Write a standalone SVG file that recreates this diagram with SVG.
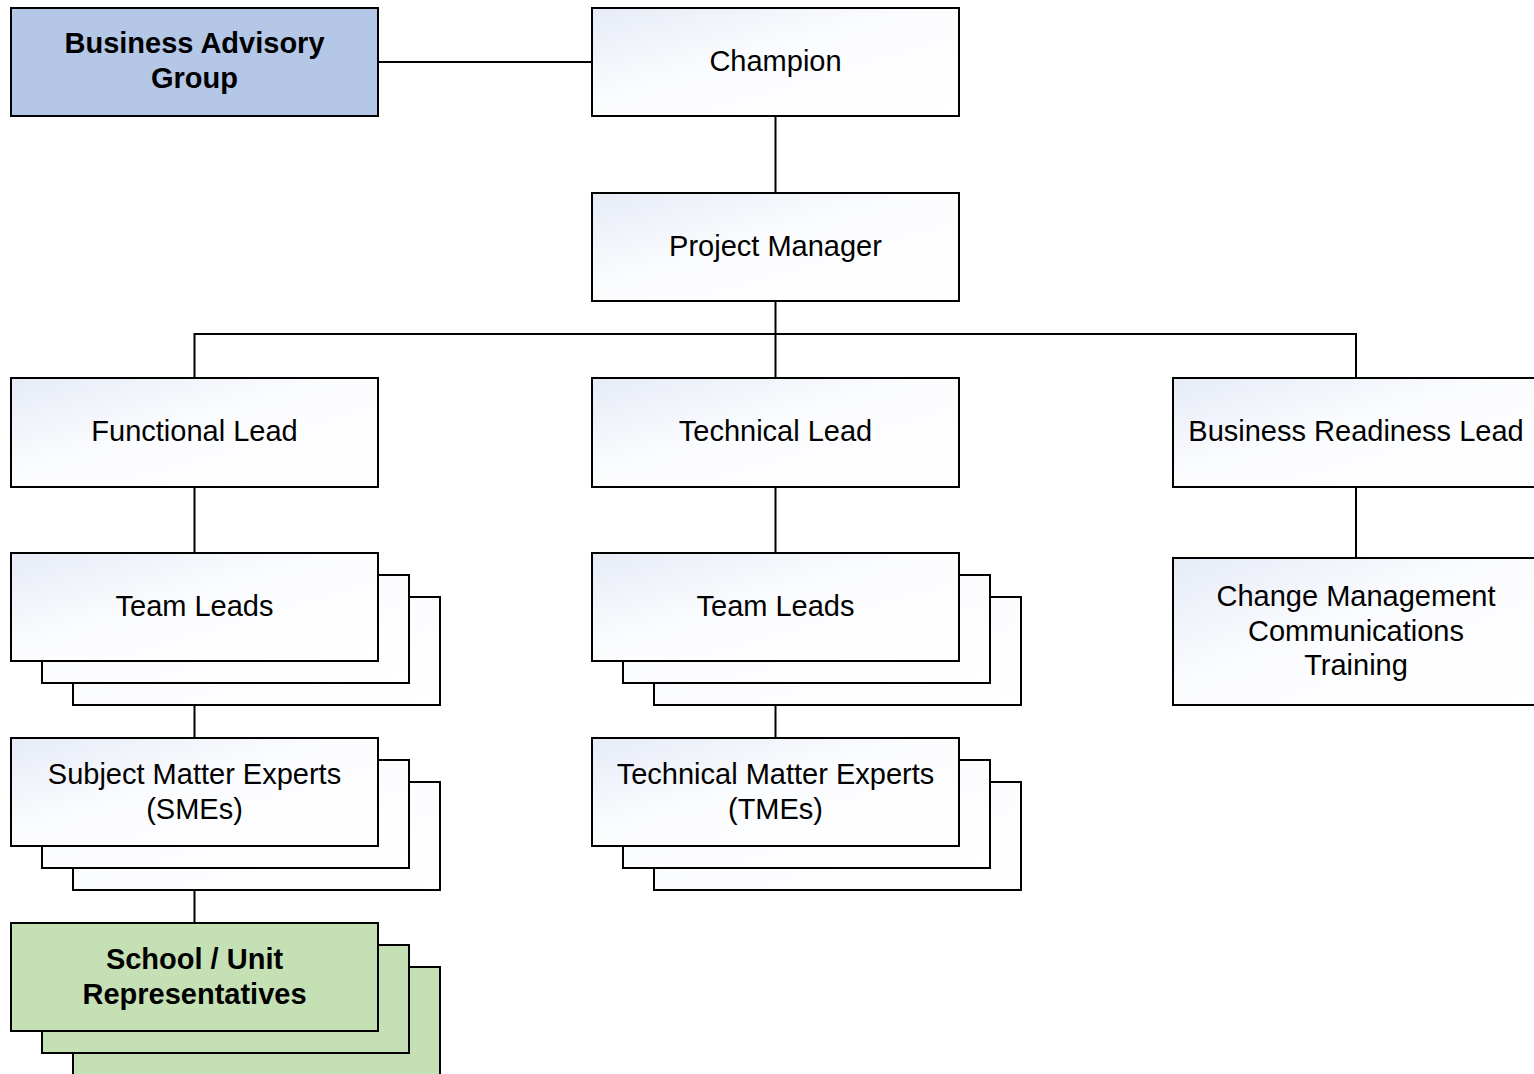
<svg xmlns="http://www.w3.org/2000/svg" width="1534" height="1074" viewBox="0 0 1534 1074">
<defs>
<linearGradient id="g" x1="0" y1="0" x2="1" y2="1">
<stop offset="0" stop-color="#e6ebf6"/>
<stop offset="0.45" stop-color="#fbfcfe"/>
<stop offset="1" stop-color="#ffffff"/>
</linearGradient>
</defs>
<style>
.b{fill:url(#g);stroke:#000;stroke-width:2}
.blue{fill:#b4c7e7;stroke:#000;stroke-width:2}
.green{fill:#c5e0b4;stroke:#000;stroke-width:2}
.c{fill:none;stroke:#000;stroke-width:2}
text{font-family:"Liberation Sans",Arial,sans-serif;font-size:29px;fill:#000;text-anchor:middle}
.bold{font-weight:bold}
</style>
<rect width="1534" height="1074" fill="#fff"/>
<g id="connectors">
<path class="c" d="M378 62H592"/>
<path class="c" d="M775.5 116V193"/>
<path class="c" d="M775.5 301V378"/>
<path class="c" d="M194.5 378V334H1356V378"/>
<path class="c" d="M194.5 487V553"/>
<path class="c" d="M194.5 705V738"/>
<path class="c" d="M194.5 890V923"/>
<path class="c" d="M775.5 487V553"/>
<path class="c" d="M775.5 705V738"/>
<path class="c" d="M1356 487V558"/>
</g>
<g id="bag">
<rect class="blue" x="11" y="8" width="367" height="108"/>
<text class="bold" x="194.5" y="53">Business Advisory</text>
<text class="bold" x="194.5" y="88">Group</text>
</g>
<g id="champion">
<rect class="b" x="592" y="8" width="367" height="108"/>
<text x="775.5" y="71">Champion</text>
</g>
<g id="pm">
<rect class="b" x="592" y="193" width="367" height="108"/>
<text x="775.5" y="256">Project Manager</text>
</g>
<g id="functional-lead">
<rect class="b" x="11" y="378" width="367" height="109"/>
<text x="194.5" y="441">Functional Lead</text>
</g>
<g id="technical-lead">
<rect class="b" x="592" y="378" width="367" height="109"/>
<text x="775.5" y="441">Technical Lead</text>
</g>
<g id="business-readiness-lead">
<rect class="b" x="1173" y="378" width="367" height="109"/>
<text x="1356" y="441">Business Readiness Lead</text>
</g>
<g id="team-leads-1">
<rect class="b" x="73" y="597" width="367" height="108"/>
<rect class="b" x="42" y="575" width="367" height="108"/>
<rect class="b" x="11" y="553" width="367" height="108"/>
<text x="194.5" y="616">Team Leads</text>
</g>
<g id="team-leads-2">
<rect class="b" x="654" y="597" width="367" height="108"/>
<rect class="b" x="623" y="575" width="367" height="108"/>
<rect class="b" x="592" y="553" width="367" height="108"/>
<text x="775.5" y="616">Team Leads</text>
</g>
<g id="change-management">
<rect class="b" x="1173" y="558" width="367" height="147"/>
<text x="1356" y="606">Change Management</text>
<text x="1356" y="640.5">Communications</text>
<text x="1356" y="675">Training</text>
</g>
<g id="smes">
<rect class="b" x="73" y="782" width="367" height="108"/>
<rect class="b" x="42" y="760" width="367" height="108"/>
<rect class="b" x="11" y="738" width="367" height="108"/>
<text x="194.5" y="784">Subject Matter Experts</text>
<text x="194.5" y="819">(SMEs)</text>
</g>
<g id="tmes">
<rect class="b" x="654" y="782" width="367" height="108"/>
<rect class="b" x="623" y="760" width="367" height="108"/>
<rect class="b" x="592" y="738" width="367" height="108"/>
<text x="775.5" y="784">Technical Matter Experts</text>
<text x="775.5" y="819">(TMEs)</text>
</g>
<g id="school-unit-reps">
<rect class="green" x="73" y="967" width="367" height="108"/>
<rect class="green" x="42" y="945" width="367" height="108"/>
<rect class="green" x="11" y="923" width="367" height="108"/>
<text class="bold" x="194.5" y="969">School / Unit</text>
<text class="bold" x="194.5" y="1004">Representatives</text>
</g>
</svg>
